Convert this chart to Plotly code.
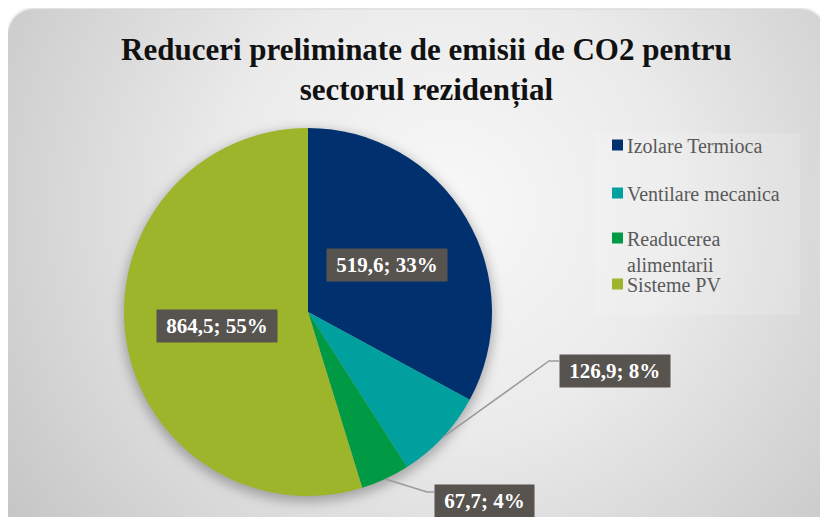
import base64
import math
import plotly.graph_objects as go

# ---- data ----
categories = ["Izolare Termioca", "Ventilare mecanica", "Readucerea alimentarii", "Sisteme PV"]
legend_labels = ["Izolare Termioca", "Ventilare mecanica", "Readucerea<br>alimentarii", "Sisteme PV"]
values = [519.6, 126.9, 67.7, 864.5]
colors = ["#00306e", "#00a09f", "#009a44", "#9db52a"]
title_text = "Reduceri preliminate de emisii de CO2 pentru<br>sectorul rezidențial"

# ---- layout geometry (window pixels; page body has an 8px margin) ----
W, H = 828, 517
OFF = 8
CX, CY, R = 308, 312, 184


def px(x):
    return (x - OFF) / W


def py(y):
    return 1 - (y - OFF) / H


total = sum(values)
pcts = [v / total * 100 for v in values]
texts = [f"{v:.1f}".replace(".", ",") + f"; {round(p):d}%" for v, p in zip(values, pcts)]

# mid angles (clockwise from 12 o'clock)
mids = []
cum = 0.0
for v in values:
    a0 = cum / total * 360
    cum += v
    a1 = cum / total * 360
    mids.append((a0 + a1) / 2)


def polar(frac, ang):
    r = R * frac
    return CX + r * math.sin(math.radians(ang)), CY - r * math.cos(math.radians(ang))


# ---- background svg (card with radial gradient + pie shadow), figure coords ----
cx_s, cy_s = CX - OFF, CY - OFF
svg = f"""<svg xmlns='http://www.w3.org/2000/svg' width='{W}' height='{H}' viewBox='0 0 {W} {H}'>
<defs>
<radialGradient id='g' gradientUnits='userSpaceOnUse' cx='440' cy='200' r='560'>
<stop offset='0' stop-color='#f8f8f8'/>
<stop offset='0.4' stop-color='#ebebeb'/>
<stop offset='1' stop-color='#c3c3c3'/>
</radialGradient>
<filter id='b' x='-20%' y='-20%' width='140%' height='140%'><feGaussianBlur stdDeviation='6'/></filter>
<filter id='s' x='-5%' y='-5%' width='110%' height='110%'><feGaussianBlur stdDeviation='1.5'/></filter>
</defs>
<rect x='0' y='0' width='{W}' height='{H}' fill='#ffffff'/>
<rect x='0' y='0.5' width='818' height='580' rx='26' ry='26' fill='#c8c8c8' filter='url(#s)'/>
<rect x='0' y='1.5' width='818' height='580' rx='26' ry='26' fill='url(#g)'/>
<circle cx='{cx_s}' cy='{cy_s + 4}' r='{R + 2}' fill='#000' fill-opacity='0.28' filter='url(#b)'/>
</svg>"""
src = "data:image/svg+xml;base64," + base64.b64encode(svg.encode("utf-8")).decode("ascii")

fig = go.Figure()
fig.add_trace(go.Pie(
    labels=categories,
    values=values,
    sort=False,
    direction="clockwise",
    rotation=0,
    marker=dict(colors=colors, line=dict(width=0)),
    textinfo="none",
    hoverinfo="label+value+percent",
    showlegend=False,
    domain=dict(x=[px(CX - R), px(CX + R)], y=[py(CY + R), py(CY - R)]),
))

annotations = []
shapes = []
label_font = dict(family="Liberation Serif", size=21, color="white")
box_bg = "#57534f"

# inside labels (large slices)
for i in (0, 3):
    x, y = polar(0.5, mids[i])
    annotations.append(dict(
        x=px(x), y=py(y), xref="paper", yref="paper",
        text="<b>\u00a0" + texts[i] + "\u00a0</b>", showarrow=False,
        font=label_font, bgcolor=box_bg, borderpad=4,
        xanchor="center", yanchor="middle"))

# outside labels with elbow leaders (small slices)
outside = {1: ((549, 361), (559, 361), (559, 371)),
           2: ((427, 492), (434, 492), (434, 501))}
for i, (elbow, end, anchor) in outside.items():
    ex, ey = polar(1.0, mids[i])
    path = (f"M {px(ex)} {py(ey)} L {px(elbow[0])} {py(elbow[1])} "
            f"L {px(end[0])} {py(end[1])}")
    shapes.append(dict(type="path", xref="paper", yref="paper", path=path,
                       line=dict(color="#9a9a9a", width=1.5), layer="above"))
    annotations.append(dict(
        x=px(anchor[0]), y=py(anchor[1]), xref="paper", yref="paper",
        text="<b>\u00a0" + texts[i] + "\u00a0</b>", showarrow=False,
        font=label_font, bgcolor=box_bg, borderpad=4,
        xanchor="left", yanchor="middle"))

# title
annotations.append(dict(
    x=px(426), y=py(30), xref="paper", yref="paper",
    text="<b>" + title_text + "</b>", showarrow=False,
    font=dict(family="Liberation Serif", size=31, color="#111111"),
    xanchor="center", yanchor="top", align="center"))

# manual legend
shapes.append(dict(type="rect", xref="paper", yref="paper",
                   x0=px(595), x1=px(800), y0=py(315), y1=py(133),
                   fillcolor="rgba(255,255,255,0.15)", line=dict(width=0), layer="below"))
leg_y = [145, 193, 238, 284]
line_h = 25
for lab, col, yy in zip(legend_labels, colors, leg_y):
    shapes.append(dict(type="rect", xref="paper", yref="paper",
                       x0=px(612), x1=px(623), y0=py(yy + 5.5), y1=py(yy - 5.5),
                       fillcolor=col, line=dict(width=0)))
    annotations.append(dict(
        x=px(625), y=py(yy - line_h / 2), xref="paper", yref="paper",
        text=lab, showarrow=False, align="left",
        font=dict(family="Liberation Serif", size=20, color="#595959"),
        xanchor="left", yanchor="top"))

fig.update_layout(
    width=W, height=H,
    margin=dict(l=0, r=0, t=0, b=0),
    paper_bgcolor="white",
    plot_bgcolor="rgba(0,0,0,0)",
    showlegend=False,
    images=[dict(source=src, xref="paper", yref="paper", x=0, y=1,
                 sizex=1, sizey=1, sizing="stretch", layer="below",
                 xanchor="left", yanchor="top")],
    shapes=shapes,
    annotations=annotations,
)

fig.write_html("out.html")
